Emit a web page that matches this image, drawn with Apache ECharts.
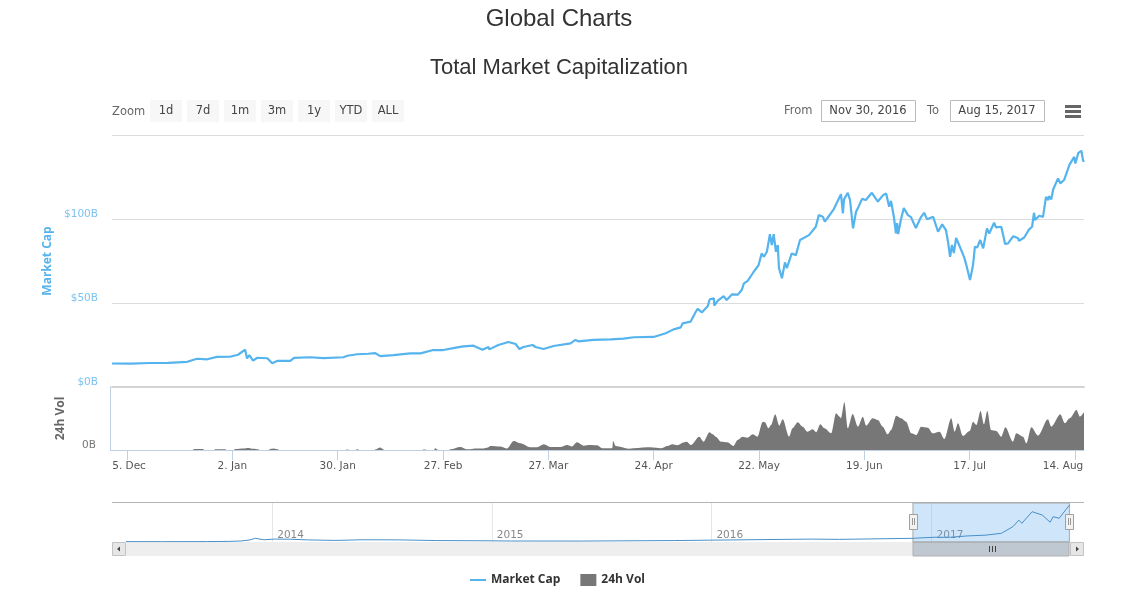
<!DOCTYPE html>
<html lang="en">
<head>
<meta charset="UTF-8">
<title>Global Charts</title>
<script src="https://cdn.jsdelivr.net/npm/echarts@6/dist/echarts.min.js"></script>
<style>
    html, body { margin: 0; padding: 0; background: #fff; }
    #main { width: 1133px; height: 592px; }
</style>
</head>
<body>
<div id="main"></div>
<script>
// all day numbers count from 1 Dec 2016
const startDate = Date.UTC(2016, 11, 1);
const lastDay = 258.4;

// market cap, $B
const capDays = [
    0,5,10.1,15,20,22.6,25.3,27.9,31.4,33.5,
    35.4,35.9,36.5,37.5,38.6,41.3,42.6,43.9,47.4,48.4,
    52.7,56.2,61.5,62.6,65.2,68.1,70,71.3,74.8,79.3,
    82,85.4,88.1,91.8,93.4,96.1,98.5,100.1,100.3,102.7,
    105.4,107.3,108.3,109.4,111.8,112.6,114.7,117.4,121.9,123.2,
    124,128,132.6,136,138.7,144,147.2,149.3,151.2,151.7,
    153.8,155.2,155.7,156.8,158.4,158.9,160,160.1,161,162.6,
    163.4,164.8,166.4,167.4,168,169,170.6,171.9,172.7,173.3,
    174.1,174.9,175.4,175.9,176.5,177,177.3,178.1,178.9,179.4,
    180.7,181.8,182.9,183.4,185.3,187.1,187.9,189,189.5,190.3,
    191.9,193.8,194.3,194.6,195.6,196.2,197,197.8,198.3,199.4,
    200.4,202,203.6,205,205.8,206.6,207.1,207.9,208.4,208.7,
    209,209.7,210.5,211.6,212.4,213.7,215.1,215.9,216.7,218.3,
    219.6,220.7,221.7,222.3,222.8,223.3,223.8,224.4,225.4,226.5,
    227,228.1,228.9,229.4,230,230.8,231.6,232.6,233.2,234.5,
    235,236.4,237.2,237.4,238.2,239.6,240.9,241.1,242.5,243.8,
    244.6,245.1,245.4,246.5,247.5,248.3,248.9,249.1,249.7,250.2,
    251.5,252.1,253.1,254.5,255,255.8,256.1,256.9,257.7,258.2,
    258.4
];
const capValues = [
    14,13.9,14.3,14.4,15,16.8,16.5,17.9,18,19.2,
    22.2,17,19,15.7,17.4,17.1,14.1,15.5,15.5,17.3,
    17.7,17.2,17.7,18.6,19.5,19.8,20.2,18.4,19,20,
    20,22,22,23.6,24.2,24.6,22.2,23.8,22.4,25,
    26.8,25.6,22.6,23.8,25,23.8,22.6,24.4,26,28,
    27.2,28,28.4,28.8,29.6,29.8,32,34.3,35.5,37.9,
    38.9,44.8,46.6,44.4,48.2,52.2,52.8,48.5,51.3,54.1,
    51.8,55.1,55,57.7,61.7,63.2,68.6,72.6,79.5,77.5,
    80.5,91,84.5,91,80.5,84.5,70.8,64.7,74.2,70.8,
    79.5,78.5,87.5,86.5,90.4,95.4,102.3,101.3,98.4,100.9,
    105.9,114.8,103.3,111.7,115.6,111.3,94.4,104.3,106.5,112,
    111.3,115.6,110.4,114.2,115.2,107.3,110.8,100.6,91.4,97.6,
    91,99.4,106.5,102.3,101.1,94.6,101.3,103.7,99.8,101.3,
    92.4,96.8,93.4,85.7,77.5,84.5,79.7,88.7,83.5,77.5,
    73.6,63.7,72.6,83.5,83,87.5,82.5,94.4,91.4,97.8,
    95,95.4,87.5,85.1,85.5,89.8,88.5,87,89,93.8,
    95.4,103.7,99.4,101.9,101.3,113.2,111.3,113.6,111.7,117.6,
    124.2,121.2,123.2,132.1,134,137,133,139.4,140.6,134.2,
    135
];

// 24h volume, $B
const volDays = [
    0,21.4,21.6,22,24.2,24.5,27.1,27.4,30,30.6,
    32.4,32.7,35,36.2,37.5,38.9,39.2,41.7,42,43,
    44.2,44.5,62.1,62.4,63.3,64.8,65.1,66,69.7,70,
    71.3,72.4,82.5,82.8,84.2,85.6,85.9,86.8,89.6,89.9,
    92.6,94.4,97,98.8,99.9,100.6,103.2,105,106.8,108.6,
    111.2,113,114.8,116.5,119.2,121,122.3,123.6,125.4,127.2,
    129,130.3,133,133.2,133.9,137.4,142.3,145.4,145.9,147.7,
    149,150.3,152.1,152.8,153.9,156.1,157.3,158.8,159.7,160.5,
    161.9,163.6,165.2,166.3,167.6,169,170.3,171.6,173,173.6,
    174.5,175.2,176.3,177.4,178.3,180,180.9,182.3,183.6,184.9,
    186.3,187.2,188.3,189.4,191.2,192.5,193.4,193.8,194.7,195.6,
    196.9,198.3,199.6,200.5,202.2,203.6,204.9,206.2,207.1,208.5,
    209.8,211.1,212.5,213.8,215.1,216.9,218.2,220,221.3,223.1,
    224,224.9,226.2,228,228.9,229.8,230.9,231.8,232.7,233.7,
    235.1,236.4,237.5,239.5,240.4,242.2,243.1,244.4,246.2,248.8,
    249.7,252.1,253.3,254.6,256.4,257.3,258.4
];
const volValues = [
    0,0,.1,.2,.2,0,0,.15,.15,0,
    0,.2,.3,.4,.25,.15,0,0,.2,.3,
    .1,0,0,.1,0,0,.15,0,0,.1,
    .5,0,0,.1,0,0,.35,0,0,.15,
    .6,.15,.3,.3,.5,.8,.7,.3,1.8,1.33,
    .53,.53,1.13,.6,.6,1,.7,1.53,.87,1,
    .93,.33,.33,1.8,.8,.27,.53,.4,.33,.8,
    1.13,.93,1.53,1.67,1,2.67,1.67,3.53,3.13,2.67,
    1.67,1.53,.8,2,2.67,2.47,3.13,2.67,5.67,5.53,
    4.33,5,7.13,4.87,6.13,2.67,4.33,5.53,4.67,3.67,
    4.13,3.53,5.13,4.33,3.33,7.33,6.67,6.33,9.53,4.33,
    7.2,4.67,6.67,4.87,6.33,6,4.67,3.13,4,6.87,
    6.33,5.67,3.33,3,4.67,4.47,3.33,3.67,2.2,6.33,
    3.67,5.33,2.8,3.8,5.67,5,7.8,5.13,7.8,4,
    3.8,2.67,4.53,1.67,3.33,2.67,1.33,4.53,2.87,6.13,
    4.67,7.13,5.33,6.33,8,6.67,7.53
];

// navigator overview, whole history
const navDates = [
    '2013-05-03','2013-07-01','2013-09-15','2013-10-20','2013-11-10','2013-11-25','2013-12-04','2013-12-18','2014-01-05','2014-02-01',
    '2014-03-01','2014-04-15','2014-06-01','2014-08-01','2014-10-01','2014-12-31','2015-02-01','2015-06-01','2015-11-01','2016-01-01',
    '2016-06-15','2016-08-01','2016-12-01','2017-01-05','2017-02-01','2017-03-01','2017-04-01','2017-04-27','2017-05-16','2017-05-26',
    '2017-05-31','2017-06-17','2017-07-04','2017-07-17','2017-07-22','2017-08-01','2017-08-18'
];
const navValues = [
    1.5,1.2,1.6,2.2,3.8,8,14,8.5,11,10.5,
    8,6,8.5,8,5.5,4.5,3.7,3.6,5.5,7,
    11,10,14,18,18,23,26,33,58,83,
    71,115,102,75,96,90,140
];

const tickDates = ['2016-12-05','2017-01-02','2017-01-30','2017-02-27','2017-03-27','2017-04-24','2017-05-22','2017-06-19','2017-07-17','2017-08-14'];
const tickLabels = ['5. Dec','2. Jan','30. Jan','27. Feb','27. Mar','24. Apr','22. May','19. Jun','17. Jul','14. Aug'];
const navYears = ['2014-01-01','2015-01-01','2016-01-01','2017-01-01'];
const rangeButtons = ['1d','7d','1m','3m','1y','YTD','ALL'];

const uiFont = '"DejaVu Sans", Verdana, sans-serif';
const legendFont = '"Open Sans", sans-serif';
const titleFont = '"Liberation Sans", Arial, sans-serif';
const capColor = '#55b4ee';
const volColor = '#777777';

const dayToTime = d => startDate + d * 86400000;
const toTime = s => new Date(s).getTime();
const tickTimes = tickDates.map(toTime);

function rect(x, y, width, height, fill, stroke, z) {
    return {type: 'rect', silent: true, z: z || 1, shape: {x, y, width, height},
        style: {fill, stroke: stroke || null, lineWidth: stroke ? 1 : 0}};
}
function label(text, x, y, opts) {
    return {type: 'text', silent: true, z: 5, x, y, style: Object.assign({
        text, fill: '#666', font: '11.5px ' + uiFont, align: 'left', verticalAlign: 'middle'
    }, opts || {})};
}

const graphics = [
    label('Zoom', 112, 112.5),
    label('From', 784, 111.5),
    label('To', 927, 111.5),
    rect(821.5, 100.5, 94, 21, '#fff', '#bbbbbb'),
    rect(950.5, 100.5, 94, 21, '#fff', '#bbbbbb'),
    label('Nov 30, 2016', 868, 111.5, {align: 'center', fill: '#444'}),
    label('Aug 15, 2017', 997, 111.5, {align: 'center', fill: '#444'}),
    rect(1065, 105, 16, 3, '#666'),
    rect(1065, 110, 16, 3, '#666'),
    rect(1065, 115, 16, 3, '#666'),
    // lower axis stub left of the plot
    rect(110, 450, 2, 1, '#c0d0e0'),
    // navigator frame and scrollbar
    rect(112, 502, 972, 1, '#b4b4b4'),
    rect(126, 542, 944, 14, '#eeeeee'),
    rect(913, 542, 156, 14, '#bfc8d1', '#b0b0b0'),
    rect(989, 546, 1, 6, '#444', null, 3),
    rect(992, 546, 1, 6, '#444', null, 3),
    rect(995, 546, 1, 6, '#444', null, 3),
    rect(112.5, 542.5, 13, 13, '#e6e6e6', '#c4c4c4'),
    rect(1070.5, 542.5, 13, 13, '#e6e6e6', '#c4c4c4'),
    {type: 'polygon', silent: true, z: 3, shape: {points: [[120, 546.5], [120, 551.5], [117, 549]]}, style: {fill: '#444'}},
    {type: 'polygon', silent: true, z: 3, shape: {points: [[1076, 546.5], [1076, 551.5], [1079, 549]]}, style: {fill: '#444'}},
    rect(909.5, 514.5, 8, 15, '#f2f2f2', '#a0a0a0', 6),
    rect(1065.5, 514.5, 8, 15, '#f2f2f2', '#a0a0a0', 6),
    rect(912, 518, 1, 7, '#999', null, 7),
    rect(914, 518, 1, 7, '#999', null, 7),
    rect(1068, 518, 1, 7, '#999', null, 7),
    rect(1070, 518, 1, 7, '#999', null, 7)
];
rangeButtons.forEach((b, i) => {
    const x = 150 + i * 37;
    graphics.push(rect(x, 100, 32, 22, '#f7f7f7'));
    graphics.push(label(b, x + 16, 111.5, {align: 'center', fill: '#444'}));
});

const chart = echarts.init(document.getElementById('main'));
chart.setOption({
    animation: false,
    backgroundColor: '#fff',
    title: [
        {text: 'Global Charts', left: 554, textAlign: 'center', top: 2, textStyle: {fontFamily: titleFont, fontSize: 24, fontWeight: 'normal', color: '#333'}},
        {text: 'Total Market Capitalization', left: 554, textAlign: 'center', top: 52, textStyle: {fontFamily: titleFont, fontSize: 22, fontWeight: 'normal', color: '#333'}}
    ],
    legend: {
        left: 469, top: 574, padding: 0, itemWidth: 16, itemHeight: 12, itemGap: 20,
        selectedMode: false,
        textStyle: {fontFamily: legendFont, fontSize: 12, fontWeight: 'bold', color: '#333'},
        data: [
            {name: 'Market Cap', itemStyle: {opacity: 0}},
            {name: '24h Vol', icon: 'rect', itemStyle: {color: volColor}}
        ]
    },
    grid: [
        {left: 112, width: 972, top: 135, height: 252},
        {left: 112, width: 972, top: 387, height: 63},
        {left: 126, width: 944, top: 503, height: 39}
    ],
    // x axes hold UTC timestamps on a value scale so the ticks can sit on the given dates
    xAxis: [
        {
            type: 'value', gridIndex: 0, min: startDate, max: dayToTime(lastDay),
            axisLine: {show: true, onZero: false, lineStyle: {color: '#d4d4d4', width: 2}},
            axisTick: {show: false}, axisLabel: {show: false}, splitLine: {show: false}
        },
        {
            type: 'value', gridIndex: 1, min: startDate, max: dayToTime(lastDay),
            axisLine: {show: true, onZero: false, lineStyle: {color: '#c0d0e0'}},
            axisTick: {show: true, length: 10, lineStyle: {color: '#c0d0e0'}, customValues: tickTimes},
            splitLine: {show: false},
            axisLabel: {
                customValues: tickTimes, margin: 11, hideOverlap: false,
                fontFamily: uiFont, fontSize: 10.5, color: '#555',
                formatter: v => {
                    const text = tickLabels[tickTimes.indexOf(v)] || '';
                    if (text === '14. Aug') return '{last|' + text + '}';
                    if (text === '5. Dec') return '{first|' + text + '}';
                    return text;
                },
                rich: {
                    last: {fontFamily: uiFont, fontSize: 10.5, color: '#555', padding: [0, 24, 0, 0]},
                    first: {fontFamily: uiFont, fontSize: 10.5, color: '#555', padding: [0, 0, 0, 4]}
                }
            }
        },
        {
            type: 'value', gridIndex: 2, min: toTime('2013-05-03'), max: toTime('2017-08-19'),
            axisLine: {show: false, onZero: false},
            axisTick: {show: true, inside: true, length: 39, lineStyle: {color: '#e6e6e6'}, customValues: navYears.map(toTime)},
            splitLine: {show: false},
            axisLabel: {
                customValues: navYears.map(toTime), inside: true, align: 'left', margin: 1,
                hideOverlap: false, padding: [0, 0, 0, 5],
                fontFamily: uiFont, fontSize: 10.5, color: '#888',
                formatter: v => String(new Date(v).getUTCFullYear())
            }
        }
    ],
    yAxis: [
        {
            type: 'value', gridIndex: 0, min: 0, max: 150, interval: 50,
            name: 'Market Cap', nameLocation: 'middle', nameGap: 56, nameRotate: 90,
            nameTextStyle: {fontFamily: legendFont, fontSize: 12, fontWeight: 'bold', color: capColor},
            axisLine: {show: false}, axisTick: {show: false},
            splitLine: {lineStyle: {color: '#dcdcdc'}},
            axisLabel: {
                margin: 14, verticalAlign: 'bottom', lineHeight: 10, fontFamily: uiFont, fontSize: 10.5, color: '#7cc3f0',
                formatter: v => v === 150 ? '' : '$' + v + 'B'
            }
        },
        {
            type: 'value', gridIndex: 1, min: 0, max: 12.6, interval: 12.6, offset: 2,
            name: '24h Vol', nameLocation: 'middle', nameGap: 43, nameRotate: 90,
            nameTextStyle: {fontFamily: legendFont, fontSize: 12, fontWeight: 'bold', color: '#666'},
            axisLine: {show: true, lineStyle: {color: '#c0d0e0'}}, axisTick: {show: false},
            splitLine: {show: false},
            axisLabel: {
                margin: 14, verticalAlign: 'bottom', lineHeight: 10, fontFamily: uiFont, fontSize: 10.5, color: '#777',
                formatter: v => v === 0 ? '0B' : ''
            }
        },
        {
            type: 'value', gridIndex: 2, min: 0, max: 148,
            axisLine: {show: false}, axisTick: {show: false}, axisLabel: {show: false}, splitLine: {show: false}
        }
    ],
    series: [
        {
            name: 'Market Cap', type: 'line', xAxisIndex: 0, yAxisIndex: 0, symbol: 'none',
            lineStyle: {color: capColor, width: 2.2}, itemStyle: {color: capColor},
            data: capDays.map((d, i) => [dayToTime(d), capValues[i]])
        },
        {
            name: '24h Vol', type: 'line', xAxisIndex: 1, yAxisIndex: 1, symbol: 'none',
            smooth: 0.3, smoothMonotone: 'x',
            lineStyle: {width: 0}, itemStyle: {color: volColor},
            areaStyle: {color: volColor, opacity: 1},
            data: volDays.map((d, i) => [dayToTime(d), volValues[i]])
        },
        {
            name: 'navigator', type: 'line', xAxisIndex: 2, yAxisIndex: 2, symbol: 'none', silent: true,
            lineStyle: {color: '#4a8fc6', width: 1},
            markArea: {
                silent: true,
                itemStyle: {color: 'rgba(100,170,238,0.31)', borderColor: '#a8a8a8', borderWidth: 1},
                data: [[{xAxis: toTime('2016-12-01')}, {xAxis: toTime('2017-08-18')}]]
            },
            data: navDates.map((d, i) => [toTime(d), navValues[i]])
        }
    ],
    graphic: graphics
});
</script>
</body>
</html>
